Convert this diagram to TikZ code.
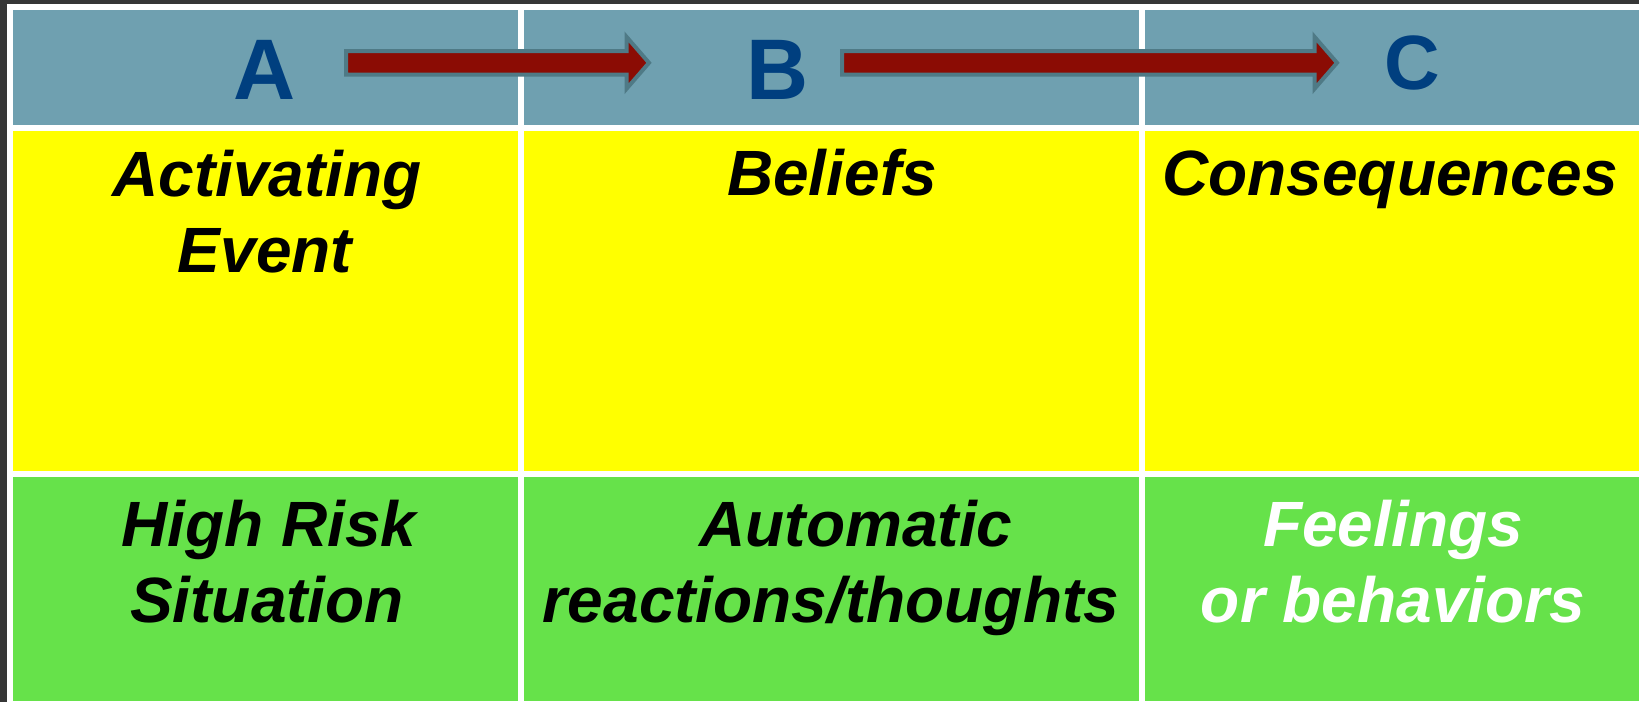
\documentclass[tikz,border=0pt]{standalone}
\usepackage{fontspec}
\setmainfont{Liberation Sans}
\definecolor{framegray}{HTML}{363636}
\definecolor{hdr}{HTML}{6FA0B0}
\definecolor{yel}{HTML}{FFFF00}
\definecolor{grn}{HTML}{66E24A}
\definecolor{lettercol}{HTML}{003F7F}
\definecolor{arrfill}{HTML}{8B0C04}
\definecolor{arredge}{HTML}{4F7A86}
\begin{document}
\begin{tikzpicture}[x=1pt,y=-1pt,
  lettertext/.style={anchor=base, inner sep=0pt, text=lettercol, font=\fontsize{86}{86}\selectfont\bfseries},
  bodytext/.style={anchor=base, inner sep=0pt, font=\fontsize{64}{76}\selectfont\bfseries\itshape},
  blockarr/.style={fill=arrfill, draw=arredge, line width=4pt}]
\useasboundingbox (0,0) rectangle (1639,702);
\fill[framegray] (0,0) rectangle (1639,702);
\fill[white] (7,4) rectangle (1639,702);
% header row
\fill[hdr] (13,10) rectangle (518,125);
\fill[hdr] (523.5,10) rectangle (1138.5,125);
\fill[hdr] (1144.5,10) rectangle (1639,125);
% yellow row
\fill[yel] (13,131) rectangle (518,471);
\fill[yel] (523.5,131) rectangle (1138.5,471);
\fill[yel] (1144.5,131) rectangle (1639,471);
% green row
\fill[grn] (13,477) rectangle (518,701);
\fill[grn] (523.5,477) rectangle (1138.5,701);
\fill[grn] (1144.5,477) rectangle (1639,701);
% header letters
\node[lettertext] (la) at (265,99.5) {A};
\node[lettertext] (lb) at (777.5,99.5) {B};
\node[lettertext,font=\fontsize{77}{77}\selectfont\bfseries] (lc) at (1412,89.5) {C};
% block arrows
\coordinate (a1s) at (346,62.8);
\coordinate (a1e) at (649,62.8);
\coordinate (a2s) at (842,62.8);
\coordinate (a2e) at (1337,62.8);
\draw[blockarr] ([yshift=11.8]a1s) -- ([xshift=-22.5,yshift=11.8]a1e) -- ([xshift=-22.5,yshift=26]a1e) -- (a1e) -- ([xshift=-22.5,yshift=-26]a1e) -- ([xshift=-22.5,yshift=-11.8]a1e) -- ([yshift=-11.8]a1s) -- cycle;
\draw[blockarr] ([yshift=11.8]a2s) -- ([xshift=-22.5,yshift=11.8]a2e) -- ([xshift=-22.5,yshift=26]a2e) -- (a2e) -- ([xshift=-22.5,yshift=-26]a2e) -- ([xshift=-22.5,yshift=-11.8]a2e) -- ([yshift=-11.8]a2s) -- cycle;
% yellow row texts
\node[bodytext] (t1a) at (267,196) {Activating};
\node[bodytext] (t1b) at (265,272) {Event};
\node[bodytext] (t2) at (832,195) {Beliefs};
\node[bodytext] (t3) at (1390,195) {Consequences};
% green row texts
\node[bodytext] (g1a) at (269,546) {High Risk};
\node[bodytext] (g1b) at (267,622.5) {Situation};
\node[bodytext] (g2a) at (856,546) {Automatic};
\node[bodytext] (g2b) at (831,622.5) {reactions/thoughts};
\node[bodytext,text=white] (g3a) at (1393,546) {Feelings};
\node[bodytext,text=white] (g3b) at (1393,622.5) {or behaviors};
\end{tikzpicture}
\end{document}
